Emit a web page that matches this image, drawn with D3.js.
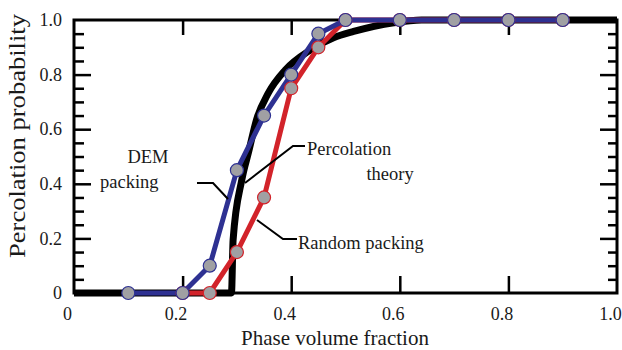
<!DOCTYPE html>
<html>
<head>
<meta charset="utf-8">
<script src="https://cdn.jsdelivr.net/npm/d3@7"></script>
<style>
  body { margin: 0; background: #fff; }
  svg { display: block; font-family: "Liberation Serif", "Times New Roman", serif; }
  svg text { font-family: "Liberation Serif", "Times New Roman", serif; }
</style>
</head>
<body>
<svg id="chart" width="622" height="350"></svg>
<script>
// values
const demFraction = [0.1, 0.2, 0.25, 0.3, 0.35, 0.4, 0.45, 0.5, 0.6, 0.7, 0.8, 0.9];
const demProb = [0, 0, 0.1, 0.45, 0.65, 0.8, 0.95, 1, 1, 1, 1, 1];
const randomFraction = [0.2, 0.25, 0.3, 0.35, 0.4, 0.45, 0.5, 0.6, 0.7, 0.8, 0.9];
const randomProb = [0, 0, 0.15, 0.35, 0.75, 0.9, 1, 1, 1, 1, 1];
const theoryFraction = [0, 0.29, 0.293, 0.309, 0.322, 0.336, 0.358, 0.389, 0.435, 0.478, 0.515, 0.589, 0.64, 1];
const theoryProb = [0, 0, 0.194, 0.414, 0.52, 0.634, 0.733, 0.817, 0.89, 0.935, 0.958, 0.99, 1, 1];
const xTickValues = [0, 0.2, 0.4, 0.6, 0.8, 1];
const yTickValues = [0, 0.2, 0.4, 0.6, 0.8, 1];

// dimensions
const WIDTH = 622;
const HEIGHT = 350;
const MARGIN = { top: 20, right: 5, bottom: 57, left: 74 };
const MAJOR = 17;
const MINOR = 10;
const BLUE = "#2e3192";
const RED = "#d2232a";
const GREY = "#a0a0a3";
const FONT = '"Liberation Serif", "Times New Roman", serif';

const x = d3.scaleLinear().domain([0, 1]).range([MARGIN.left, WIDTH - MARGIN.right]);
const y = d3.scaleLinear().domain([0, 1]).range([HEIGHT - MARGIN.bottom, MARGIN.top]);

const $svg = d3.select("#chart");

const fmt = d => (d === 0 ? "0" : d3.format(".1f")(d));
const zip = (xs, ys) => xs.map((d, i) => [d, ys[i]]);

// frame
$svg.append("rect")
  .attr("x", x(0)).attr("y", y(1))
  .attr("width", x(1) - x(0)).attr("height", y(0) - y(1))
  .attr("fill", "none").attr("stroke", "#000").attr("stroke-width", 3);

// axes
function styleAxis($g) {
  $g.attr("font-family", null).style("font-family", FONT);
  $g.select(".domain").remove();
  $g.selectAll(".tick line").attr("stroke", "#000").attr("stroke-width", 2.5);
  $g.selectAll(".tick text")
    .attr("fill", "#1a1a1a")
    .attr("font-size", 18)
    .style("font-family", FONT);
}

const inner = xTickValues.filter(d => d > 0 && d < 1);
const innerY = yTickValues.filter(d => d > 0 && d < 1);
const minorY = d3.range(0.05, 1, 0.05).filter(d => !innerY.some(v => Math.abs(v - d) < 1e-6));

// bottom
$svg.append("g")
  .attr("transform", `translate(0,${y(0)})`)
  .call(d3.axisBottom(x).tickValues(inner).tickSize(-MAJOR).tickFormat(""))
  .call(styleAxis);
$svg.append("g")
  .attr("transform", `translate(-7,${y(0)})`)
  .call(d3.axisBottom(x).tickValues(xTickValues).tickSize(0).tickPadding(14).tickFormat(fmt))
  .call(styleAxis);
// top
$svg.append("g")
  .attr("transform", `translate(0,${y(1)})`)
  .call(d3.axisTop(x).tickValues(inner).tickSize(-MAJOR + 2).tickFormat(""))
  .call(styleAxis);
// left
$svg.append("g")
  .attr("transform", `translate(${x(0)},0)`)
  .call(d3.axisLeft(y).tickValues(innerY).tickSize(-MAJOR).tickFormat(""))
  .call(styleAxis);
$svg.append("g")
  .attr("transform", `translate(${x(0)},0)`)
  .call(d3.axisLeft(y).tickValues(minorY).tickSize(-MINOR).tickFormat(""))
  .call(styleAxis);
$svg.append("g")
  .attr("transform", `translate(${x(0)},0)`)
  .call(d3.axisLeft(y).tickValues(yTickValues).tickSize(0).tickPadding(12).tickFormat(fmt))
  .call(styleAxis);
// right
$svg.append("g")
  .attr("transform", `translate(${x(1)},0)`)
  .call(d3.axisRight(y).tickValues(innerY).tickSize(-MAJOR).tickFormat(""))
  .call(styleAxis);
$svg.append("g")
  .attr("transform", `translate(${x(1)},0)`)
  .call(d3.axisRight(y).tickValues(minorY).tickSize(-MINOR + 1).tickFormat(""))
  .call(styleAxis);

// axis titles
$svg.append("text")
  .attr("x", 335).attr("y", 345)
  .attr("text-anchor", "middle").attr("font-size", 21).attr("fill", "#1a1a1a")
  .text("Phase volume fraction");
$svg.append("text")
  .attr("transform", "translate(25,136) rotate(-90)")
  .attr("text-anchor", "middle").attr("font-size", 23).attr("fill", "#1a1a1a")
  .attr("textLength", 244).attr("lengthAdjust", "spacingAndGlyphs")
  .text("Percolation probability");

// lines
const line = d3.line().x(d => x(d[0])).y(d => y(d[1]));
const smooth = d3.line().x(d => x(d[0])).y(d => y(d[1])).curve(d3.curveMonotoneX);

$svg.append("path")
  .datum(zip(theoryFraction, theoryProb))
  .attr("d", smooth)
  .attr("fill", "none").attr("stroke", "#000").attr("stroke-width", 7);

$svg.append("path")
  .datum(zip(randomFraction, randomProb))
  .attr("d", line)
  .attr("fill", "none").attr("stroke", RED).attr("stroke-width", 5)
  .attr("stroke-linejoin", "round");

$svg.append("path")
  .datum(zip(demFraction, demProb))
  .attr("d", line)
  .attr("fill", "none").attr("stroke", BLUE).attr("stroke-width", 5)
  .attr("stroke-linejoin", "round");

// markers
function markers(data, color) {
  $svg.append("g")
    .selectAll("circle")
    .data(data)
    .join("circle")
    .attr("cx", d => x(d[0]))
    .attr("cy", d => y(d[1]))
    .attr("r", 6.5)
    .attr("fill", GREY)
    .attr("stroke", color)
    .attr("stroke-width", 1.2);
}
markers(zip(randomFraction, randomProb), RED);
markers(zip(demFraction, demProb), BLUE);

// annotations (positions in data units)
const labels = [
  { text: "DEM", at: [0.1363, 0.476], anchor: "middle" },
  { text: "packing", at: [0.0479, 0.3846], anchor: "start" },
  { text: "Percolation", at: [0.4291, 0.5055], anchor: "start" },
  { text: "theory", at: [0.582, 0.4139], anchor: "middle" },
  { text: "Random packing", at: [0.4125, 0.1612], anchor: "start" }
];
const leaders = [
  [[0.2265, 0.4029], [0.256, 0.4029], [0.2836, 0.3443]],
  [[0.4254, 0.5385], [0.4033, 0.5385], [0.3149, 0.4029]],
  [[0.4107, 0.1978], [0.3849, 0.1978], [0.337, 0.2674]]
];

$svg.append("g")
  .selectAll("text")
  .data(labels)
  .join("text")
  .attr("x", d => x(d.at[0]))
  .attr("y", d => y(d.at[1]))
  .attr("text-anchor", d => d.anchor)
  .attr("font-size", 18.5)
  .attr("fill", "#1a1a1a")
  .text(d => d.text);

$svg.append("g")
  .selectAll("path")
  .data(leaders)
  .join("path")
  .attr("d", line)
  .attr("fill", "none")
  .attr("stroke", "#000")
  .attr("stroke-width", 2);
</script>
</body>
</html>
